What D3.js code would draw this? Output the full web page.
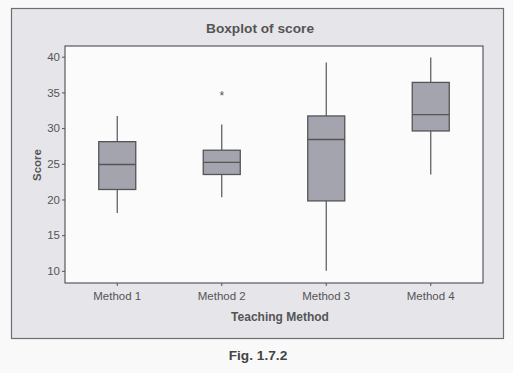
<!DOCTYPE html>
<html>
<head>
<meta charset="utf-8">
<script src="https://cdn.jsdelivr.net/npm/d3@7"></script>
<style>
  body { margin: 0; background: #f9f9f9; }
  svg { display: block; font-family: "Liberation Sans", Arial, sans-serif; }
</style>
</head>
<body>
<svg width="513" height="373"></svg>
<script>
// teaching methods and their five-number summaries
var methods = ["Method 1", "Method 2", "Method 3", "Method 4"]
var lowWhisker = [18.1, 20.3, 10.0, 23.5]
var q1 = [21.4, 23.5, 19.8, 29.6]
var median = [24.9, 25.2, 28.4, 31.9]
var q3 = [28.1, 26.9, 31.7, 36.4]
var highWhisker = [31.7, 30.5, 39.2, 39.9]
var outliers = [[], [34.7], [], []]
var yTicks = [10, 15, 20, 25, 30, 35, 40]

var svg = d3.select("svg")

// outer gray panel
svg.append("rect")
    .attr("x", 11.5).attr("y", 8.5)
    .attr("width", 492).attr("height", 330)
    .attr("fill", "#e5e5ea")
    .attr("stroke", "#6e6e72")
    .attr("stroke-width", 1.2)

var plotL = 65, plotT = 46, plotR = 483, plotB = 283

svg.append("rect")
    .attr("x", plotL).attr("y", plotT)
    .attr("width", plotR - plotL).attr("height", plotB - plotT)
    .attr("fill", "#fbfbfb")
    .attr("stroke", "#5a5a5e")
    .attr("stroke-width", 1.2)

var x = d3.scaleBand().domain(methods).range([plotL, plotR])
var y = d3.scaleLinear().domain([8.3, 41.5]).range([plotB, plotT])
var boxW = 37

var yAxis = svg.append("g")
    .attr("transform", "translate(" + plotL + ",0)")
    .call(d3.axisLeft(y).tickValues(yTicks).tickSize(3).tickPadding(2))
yAxis.select(".domain").remove()

var xAxis = svg.append("g")
    .attr("transform", "translate(0," + plotB + ")")
    .call(d3.axisBottom(x).tickSize(3).tickPadding(6))
xAxis.select(".domain").remove()

svg.selectAll(".tick line").attr("stroke", "#555")
svg.selectAll(".tick text")
    .attr("fill", "#555")
    .style("font-size", "11.5px")
    .style("font-family", "Liberation Sans, Arial, sans-serif")

var rows = methods.map(function(m, i) {
    return {m: m, lo: lowWhisker[i], q1: q1[i], med: median[i], q3: q3[i], hi: highWhisker[i], out: outliers[i]}
})

var g = svg.append("g")
var cx = function(d) { return x(d.m) + x.bandwidth() / 2 }

// whiskers
g.selectAll(".wh-top").data(rows).enter().append("line")
    .attr("x1", cx).attr("x2", cx)
    .attr("y1", function(d) { return y(d.q3) })
    .attr("y2", function(d) { return y(d.hi) })
    .attr("stroke", "#555").attr("stroke-width", 1.2)
g.selectAll(".wh-bot").data(rows).enter().append("line")
    .attr("x1", cx).attr("x2", cx)
    .attr("y1", function(d) { return y(d.q1) })
    .attr("y2", function(d) { return y(d.lo) })
    .attr("stroke", "#555").attr("stroke-width", 1.2)

// boxes
g.selectAll(".box").data(rows).enter().append("rect")
    .attr("x", function(d) { return cx(d) - boxW / 2 })
    .attr("y", function(d) { return y(d.q3) })
    .attr("width", boxW)
    .attr("height", function(d) { return y(d.q1) - y(d.q3) })
    .attr("fill", "#a3a4ad")
    .attr("stroke", "#555").attr("stroke-width", 1.3)

// medians
g.selectAll(".med").data(rows).enter().append("line")
    .attr("x1", function(d) { return cx(d) - boxW / 2 })
    .attr("x2", function(d) { return cx(d) + boxW / 2 })
    .attr("y1", function(d) { return y(d.med) })
    .attr("y2", function(d) { return y(d.med) })
    .attr("stroke", "#555").attr("stroke-width", 1.3)

// outliers
rows.forEach(function(d) {
    d.out.forEach(function(v) {
        g.append("text")
            .attr("x", cx(d)).attr("y", y(v) + 5)
            .attr("text-anchor", "middle")
            .attr("fill", "#555")
            .style("font-size", "12px")
            .text("*")
    })
})

// titles
svg.append("text")
    .attr("x", 260).attr("y", 33)
    .attr("text-anchor", "middle")
    .attr("fill", "#555")
    .style("font-size", "13.7px").style("font-weight", "bold")
    .text("Boxplot of score")

svg.append("text")
    .attr("transform", "translate(41,165) rotate(-90)")
    .attr("text-anchor", "middle")
    .attr("fill", "#555")
    .style("font-size", "11.5px").style("font-weight", "bold")
    .text("Score")

svg.append("text")
    .attr("x", 280).attr("y", 321)
    .attr("text-anchor", "middle")
    .attr("fill", "#555")
    .style("font-size", "12px").style("font-weight", "bold")
    .text("Teaching Method")

svg.append("text")
    .attr("x", 258).attr("y", 360)
    .attr("text-anchor", "middle")
    .attr("fill", "#444")
    .style("font-size", "13.7px").style("font-weight", "bold")
    .text("Fig. 1.7.2")
</script>
</body>
</html>
